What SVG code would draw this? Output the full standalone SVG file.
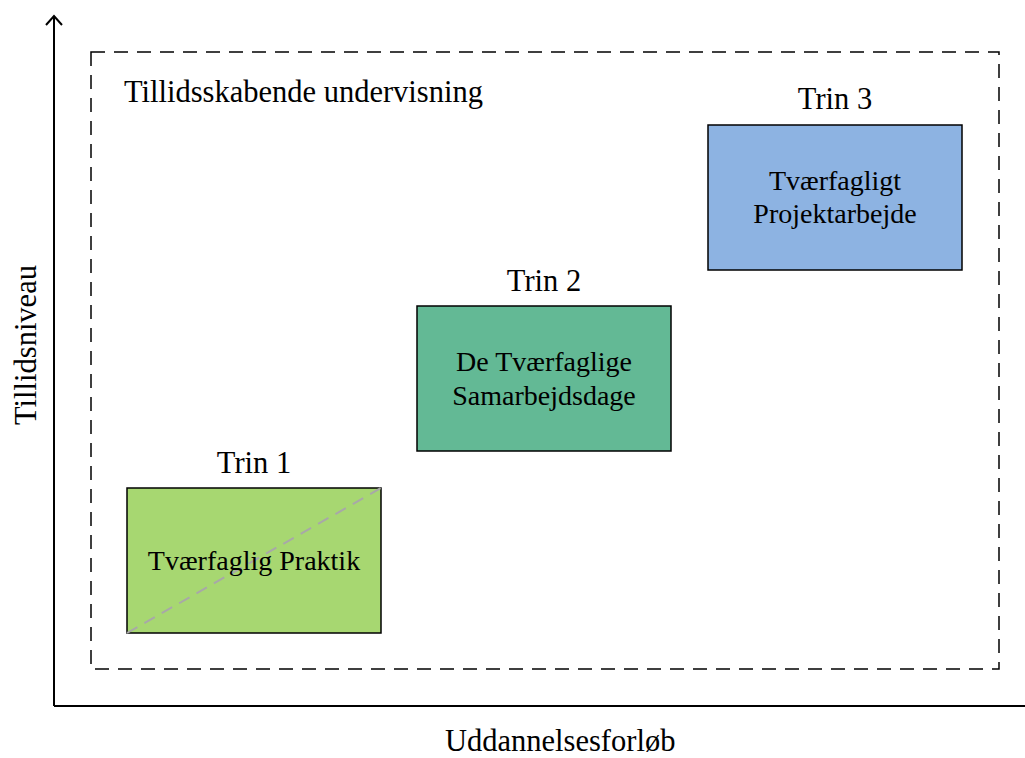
<svg xmlns="http://www.w3.org/2000/svg" width="1025" height="758" viewBox="0 0 1025 758">
<style>
text{font-family:"Liberation Serif","Times New Roman",serif;font-size:28px;fill:#000}
.c{text-anchor:middle}
.big{font-size:30.5px}
.box{stroke:#000;stroke-width:1.5}
.ax{stroke:#000;stroke-width:2;fill:none}
</style>
<rect width="1025" height="758" fill="#fff"/>
<g id="axes">
<path class="ax" d="M54,706 V17 M54,706 H1025"/>
<path class="ax" d="M46,25 L54,16 L62,25"/>
</g>
<g id="frame">
<rect x="91" y="52" width="908" height="617" fill="none" stroke="#000" stroke-width="1.5" stroke-dasharray="14,9"/>
<text class="big" x="124" y="102">Tillidsskabende undervisning</text>
</g>
<g id="trin1">
<text class="c big" x="254" y="473">Trin 1</text>
<rect class="box" x="127" y="488" width="254" height="145" fill="#a7d771"/>
<line x1="127" y1="633" x2="381" y2="488" stroke="#a8a8a8" stroke-width="2" stroke-dasharray="12,8"/>
<text class="c" x="254" y="570">Tværfaglig Praktik</text>
</g>
<g id="trin2">
<text class="c big" x="544" y="291">Trin 2</text>
<rect class="box" x="417" y="306" width="254" height="145" fill="#63b995"/>
<text class="c" x="544" y="371">De Tværfaglige</text>
<text class="c" x="544" y="405">Samarbejdsdage</text>
</g>
<g id="trin3">
<text class="c big" x="835" y="109">Trin 3</text>
<rect class="box" x="708" y="125" width="254" height="145" fill="#8db3e2"/>
<text class="c" x="835" y="190">Tværfagligt</text>
<text class="c" x="835" y="223">Projektarbejde</text>
</g>
<g id="labels">
<text class="big" x="445" y="751">Uddannelsesforløb</text>
<text class="c big" transform="translate(36,345) rotate(-90)">Tillidsniveau</text>
</g>
</svg>
